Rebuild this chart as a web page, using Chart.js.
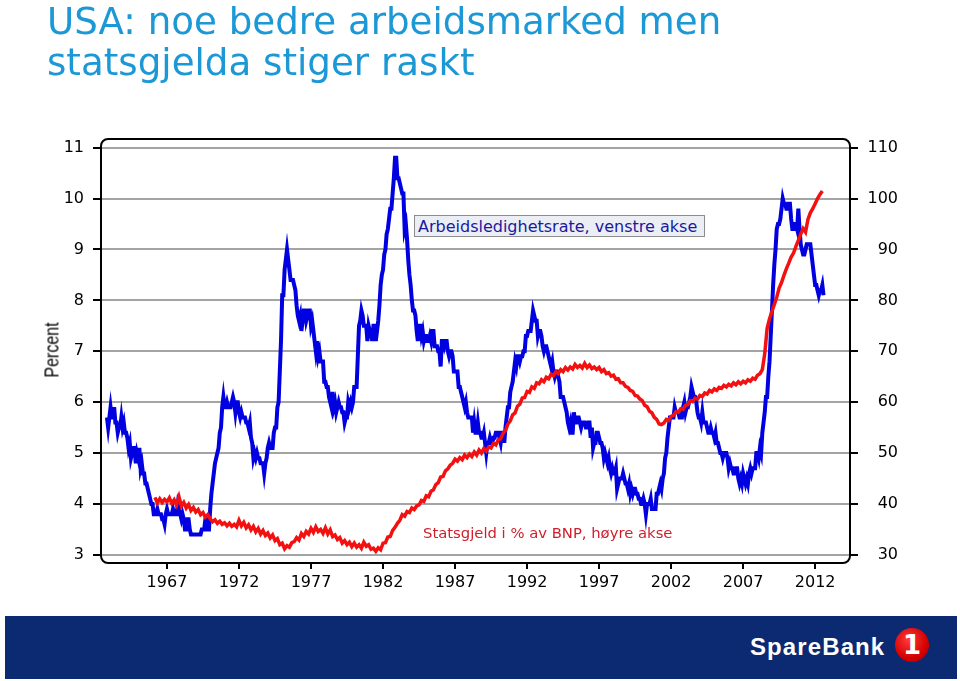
<!DOCTYPE html>
<html>
<head>
<meta charset="utf-8">
<script src="https://cdn.jsdelivr.net/npm/chart.js@4.4.0/dist/chart.umd.min.js"></script>
<style>
  html, body { margin: 0; padding: 0; background: #fff; }
  #wrap { position: relative; width: 960px; height: 681px; overflow: hidden; }
  #myChart { position: absolute; left: 0; top: 0; }
  .title { position: absolute; left: 47px; top: 1px; font-family: "DejaVu Sans", Verdana, sans-serif;
    font-size: 37.2px; line-height: 41px; color: #1b98d5; white-space: nowrap; }
  .percent { position: absolute; left: 52px; top: 350px; transform: translate(-50%, -50%) rotate(-90deg) scaleX(0.8);
    font-family: "Liberation Sans", Arial, sans-serif; font-size: 20px; color: #000; white-space: nowrap; }
  .legendbox { position: absolute; left: 414px; top: 215px; width: 289px; height: 20px; border: 1.5px solid #8c8c8c;
    background: #eceef6; font-family: "DejaVu Sans", sans-serif; font-size: 16px; line-height: 21px; color: #1a1a9c;
    text-indent: 3px; white-space: nowrap; overflow: hidden; }
  .redlabel { position: absolute; left: 423px; top: 524px; font-family: "DejaVu Sans", sans-serif; font-size: 14.8px;
    color: #cf1f2c; white-space: nowrap; }
  .band { position: absolute; left: 5px; top: 616px; width: 952px; height: 63px; background: #0c2a71; }
  .logo { position: absolute; left: 750px; top: 635px; font-family: "Liberation Sans", Arial, sans-serif;
    font-weight: bold; font-size: 24px; line-height: 24px; color: #fff; letter-spacing: 1.1px; }
  .one { position: absolute; left: 895px; top: 628px; width: 34px; height: 34px; border-radius: 50%;
    background: radial-gradient(circle at 40% 35%, #ff3a3a, #d40000 60%, #9a0000); color: #fff;
    font-family: "DejaVu Sans", sans-serif; font-weight: bold; font-size: 26px; line-height: 34px; text-align: center; }
</style>
</head>
<body>
<div id="wrap">
  <canvas id="myChart" width="960" height="681"></canvas>
  <div class="title">USA: noe bedre arbeidsmarked men<br>statsgjelda stiger raskt</div>
  <div class="percent">Percent</div>
  <div class="legendbox">Arbeidsledighetsrate, venstre akse</div>
  <div class="redlabel">Statsgjeld i % av BNP, høyre akse</div>
  <div class="band"></div>
  <div class="logo">SpareBank</div>
  <div class="one">1</div>
</div>
<script>
// tick labels
let yearTicks = [1967, 1972, 1977, 1982, 1987, 1992, 1997, 2002, 2007, 2012];
let leftTicks = [3, 4, 5, 6, 7, 8, 9, 10, 11];
let rightTicks = [30, 40, 50, 60, 70, 80, 90, 100, 110];

// unemployment rate, monthly from Nov 1962 (left axis)
let unempStart = 1962 + 10 / 12;
let unemployment = [
  5.7, 5.5,
  5.7, 5.9, 5.7, 5.7, 5.9, 5.6, 5.6, 5.4, 5.5, 5.5, 5.7, 5.5,
  5.6, 5.4, 5.4, 5.3, 5.1, 5.2, 4.9, 5.0, 5.1, 5.1, 4.8, 5.0,
  4.9, 5.1, 4.7, 4.8, 4.6, 4.6, 4.4, 4.4, 4.3, 4.2, 4.1, 4.0,
  4.0, 3.8, 3.8, 3.8, 3.9, 3.8, 3.8, 3.8, 3.7, 3.7, 3.6, 3.8,
  3.9, 3.8, 3.8, 3.8, 3.8, 3.9, 3.8, 3.8, 3.8, 4.0, 3.9, 3.8,
  3.7, 3.8, 3.7, 3.5, 3.5, 3.7, 3.7, 3.5, 3.4, 3.4, 3.4, 3.4,
  3.4, 3.4, 3.4, 3.4, 3.4, 3.5, 3.5, 3.5, 3.7, 3.7, 3.5, 3.5,
  3.9, 4.2, 4.4, 4.6, 4.8, 4.9, 5.0, 5.1, 5.4, 5.5, 5.9, 6.1,
  5.9, 5.9, 6.0, 5.9, 5.9, 5.9, 6.0, 6.1, 6.0, 5.8, 6.0, 6.0,
  5.8, 5.7, 5.8, 5.7, 5.7, 5.7, 5.6, 5.6, 5.5, 5.6, 5.3, 5.2,
  4.9, 5.0, 4.9, 5.0, 4.9, 4.9, 4.8, 4.8, 4.8, 4.6, 4.8, 4.9,
  5.1, 5.2, 5.1, 5.1, 5.1, 5.4, 5.5, 5.5, 5.9, 6.0, 6.6, 7.2,
  8.1, 8.1, 8.6, 8.8, 9.0, 8.8, 8.6, 8.4, 8.4, 8.4, 8.3, 8.2,
  7.9, 7.7, 7.6, 7.7, 7.4, 7.6, 7.8, 7.8, 7.6, 7.7, 7.8, 7.8,
  7.5, 7.6, 7.4, 7.2, 7.0, 7.2, 6.9, 7.0, 6.8, 6.8, 6.8, 6.4,
  6.4, 6.3, 6.3, 6.1, 6.0, 5.9, 6.2, 5.9, 6.0, 5.8, 5.9, 6.0,
  5.9, 5.9, 5.8, 5.8, 5.6, 5.7, 5.7, 6.0, 5.9, 6.0, 5.9, 6.0,
  6.3, 6.3, 6.3, 6.9, 7.5, 7.6, 7.8, 7.7, 7.5, 7.5, 7.5, 7.2,
  7.5, 7.4, 7.4, 7.2, 7.5, 7.5, 7.2, 7.4, 7.6, 7.9, 8.3, 8.5,
  8.6, 8.9, 9.0, 9.3, 9.4, 9.6, 9.8, 9.8, 10.1, 10.4, 10.8, 10.8,
  10.4, 10.4, 10.3, 10.2, 10.1, 10.1, 9.4, 9.5, 9.2, 8.8, 8.5, 8.3,
  8.0, 7.8, 7.8, 7.7, 7.4, 7.2, 7.5, 7.5, 7.3, 7.4, 7.2, 7.3,
  7.3, 7.2, 7.2, 7.3, 7.2, 7.4, 7.4, 7.1, 7.1, 7.1, 7.0, 7.0,
  6.7, 7.2, 7.2, 7.1, 7.2, 7.2, 7.0, 6.9, 7.0, 7.0, 6.9, 6.6,
  6.6, 6.6, 6.6, 6.3, 6.3, 6.2, 6.1, 6.0, 5.9, 6.0, 5.8, 5.7,
  5.7, 5.7, 5.7, 5.4, 5.6, 5.4, 5.4, 5.6, 5.4, 5.4, 5.3, 5.3,
  5.4, 5.2, 5.0, 5.2, 5.2, 5.3, 5.2, 5.2, 5.3, 5.3, 5.4, 5.4,
  5.4, 5.3, 5.2, 5.4, 5.4, 5.2, 5.5, 5.7, 5.9, 5.9, 6.2, 6.3,
  6.4, 6.6, 6.8, 6.7, 6.9, 6.9, 6.8, 6.9, 6.9, 7.0, 7.0, 7.3,
  7.3, 7.4, 7.4, 7.4, 7.6, 7.8, 7.7, 7.6, 7.6, 7.3, 7.4, 7.4,
  7.3, 7.1, 7.0, 7.1, 7.1, 7.0, 6.9, 6.8, 6.7, 6.8, 6.6, 6.5,
  6.6, 6.6, 6.5, 6.4, 6.1, 6.1, 6.1, 6.0, 5.9, 5.8, 5.6, 5.5,
  5.6, 5.4, 5.4, 5.8, 5.6, 5.6, 5.7, 5.7, 5.6, 5.5, 5.6, 5.6,
  5.6, 5.5, 5.5, 5.6, 5.6, 5.3, 5.5, 5.1, 5.2, 5.2, 5.4, 5.4,
  5.3, 5.2, 5.2, 5.1, 4.9, 5.0, 4.9, 4.8, 4.9, 4.7, 4.6, 4.7,
  4.6, 4.6, 4.7, 4.3, 4.4, 4.5, 4.5, 4.5, 4.6, 4.5, 4.4, 4.4,
  4.3, 4.4, 4.2, 4.3, 4.2, 4.3, 4.3, 4.2, 4.2, 4.1, 4.1, 4.0,
  4.0, 4.1, 4.0, 3.8, 4.0, 4.0, 4.0, 4.1, 3.9, 3.9, 3.9, 3.9,
  4.2, 4.2, 4.3, 4.4, 4.3, 4.5, 4.6, 4.9, 5.0, 5.3, 5.5, 5.7,
  5.7, 5.7, 5.7, 5.9, 5.8, 5.8, 5.8, 5.7, 5.7, 5.7, 5.9, 6.0,
  5.8, 5.9, 5.9, 6.0, 6.1, 6.3, 6.2, 6.1, 6.1, 6.0, 5.8, 5.7,
  5.7, 5.6, 5.8, 5.6, 5.6, 5.6, 5.5, 5.4, 5.4, 5.5, 5.4, 5.4,
  5.3, 5.4, 5.2, 5.2, 5.1, 5.0, 5.0, 4.9, 5.0, 5.0, 5.0, 4.9,
  4.7, 4.8, 4.7, 4.7, 4.6, 4.6, 4.7, 4.7, 4.5, 4.4, 4.5, 4.4,
  4.6, 4.5, 4.4, 4.5, 4.4, 4.6, 4.7, 4.6, 4.7, 4.7, 4.7, 5.0,
  5.0, 4.9, 5.1, 5.0, 5.4, 5.6, 5.8, 6.1, 6.1, 6.5, 6.8, 7.3,
  7.8, 8.3, 8.7, 9.0, 9.4, 9.5, 9.5, 9.6, 9.8, 10.0, 9.9, 9.9,
  9.8, 9.8, 9.9, 9.9, 9.6, 9.4, 9.4, 9.5, 9.5, 9.4, 9.8, 9.4,
  9.1, 9.0, 8.9, 8.9, 9.0, 9.1, 9.1, 9.1, 9.1, 8.9, 8.7, 8.5,
  8.3, 8.3, 8.2, 8.1, 8.2, 8.2, 8.3, 8.1
];

// government debt in % of GDP, every second month from Mar 1966 (right axis)
let debtStart = 1966 + 1 / 6;
let debt = [
  41.3, 40.2, 41.0, 40.3, 40.9,
  40.4, 41.2, 40.1, 40.8, 39.8, 41.4,
  39.6, 40.3, 39.2, 39.9, 38.7, 39.3,
  38.4, 38.9, 37.9, 38.3, 37.4, 37.9,
  37.1, 36.5, 36.9, 36.2, 36.6, 36.0,
  36.3, 35.7, 36.2, 35.6, 36.0, 35.5,
  36.8, 35.7, 36.4, 35.3, 35.9, 34.9,
  35.6, 34.5, 35.2, 34.1, 34.8, 33.8,
  34.3, 33.3, 33.9, 32.8, 33.2, 32.0,
  32.3, 31.2, 31.8, 31.5, 32.4, 32.6,
  33.4, 32.9, 34.2, 33.6, 34.6, 34.1,
  35.2, 34.4, 35.5, 34.6, 35.0, 34.2,
  35.3, 34.1, 34.9, 33.6, 33.9, 33.0,
  33.4, 32.3, 32.8, 32.0, 32.5, 31.6,
  32.3, 31.5, 32.0, 31.3, 32.5, 31.7,
  32.0, 31.1, 31.3, 30.7, 31.4, 31.0,
  32.3, 32.4, 33.5, 33.6, 34.8, 35.4,
  36.2, 36.8, 37.9, 37.6, 38.5, 38.3,
  39.2, 38.9, 39.6, 39.8, 40.7, 40.5,
  41.6, 41.4, 42.5, 42.8, 43.8, 44.2,
  45.3, 45.4, 46.5, 46.9, 47.6, 48.0,
  48.8, 48.4, 49.1, 48.7, 49.6, 49.1,
  49.8, 49.3, 50.2, 49.6, 50.6, 50.0,
  50.9, 50.4, 51.2, 51.0, 51.9, 51.6,
  52.6, 52.8, 53.9, 54.4, 55.7, 56.3,
  57.5, 57.9, 59.2, 59.6, 60.8, 60.9,
  62.1, 61.9, 63.0, 62.7, 63.8, 63.6,
  64.4, 64.0, 64.9, 64.6, 65.5, 65.2,
  66.0, 65.6, 66.4, 66.0, 66.8, 66.3,
  66.9, 66.5, 67.4, 66.8, 67.2, 66.7,
  67.6, 66.8, 67.3, 66.6, 66.9, 66.4,
  66.8, 66.0, 66.4, 65.6, 65.8, 65.1,
  65.3, 64.5, 64.6, 63.8, 63.8, 63.1,
  62.9, 62.3, 62.1, 61.3, 61.2, 60.6,
  60.3, 59.4, 59.1, 58.2, 57.9, 57.0,
  56.6, 55.7, 55.6, 55.9, 56.6, 56.4,
  57.2, 57.4, 58.1, 58.0, 58.7, 58.6,
  59.4, 59.5, 60.3, 60.1, 60.8, 60.6,
  61.3, 61.1, 61.8, 61.6, 62.3, 62.0,
  62.6, 62.3, 62.9, 62.7, 63.3, 63.0,
  63.5, 63.2, 63.8, 63.4, 64.0, 63.6,
  64.1, 63.8, 64.4, 64.1, 64.7, 64.5,
  65.3, 65.6, 66.4, 69.5, 74.5, 76.4,
  77.8, 79.2, 80.6, 82.4, 83.5, 84.9,
  86.2, 87.3, 88.5, 89.3, 90.6, 91.8,
  93.0, 94.1, 93.4, 95.9, 97.2, 98.0,
  99.0, 100.0, 100.8, 101.5
];

let unempPoints = unemployment.map((v, i) => ({ x: unempStart + i / 12, y: v }));
let debtPoints = debt.map((v, i) => ({ x: debtStart + i / 6, y: v }));

let frame = {
  id: 'frame',
  afterDraw(chart) {
    let a = chart.chartArea;
    let c = chart.ctx;
    c.save();
    c.strokeStyle = '#000';
    c.lineWidth = 2;
    c.beginPath();
    c.roundRect(a.left, a.top, a.right - a.left, a.bottom - a.top, 7);
    c.stroke();
    c.restore();
  }
};

let tickFont = { family: 'DejaVu Sans', size: 16 };

let chart = new Chart(document.getElementById('myChart').getContext('2d'), {
  type: 'line',
  data: {
    datasets: [{
      label: 'Statsgjeld i % av BNP, høyre akse',
      data: debtPoints,
      yAxisID: 'y1',
      borderColor: '#f21010',
      borderWidth: 3.5,
      pointRadius: 0,
      tension: 0
    }, {
      label: 'Arbeidsledighetsrate, venstre akse',
      data: unempPoints,
      yAxisID: 'y',
      borderColor: '#0000e0',
      borderWidth: 4,
      pointRadius: 0,
      tension: 0
    }]
  },
  options: {
    responsive: false,
    animation: false,
    devicePixelRatio: 1,
    layout: { padding: { top: 139, left: 0, right: 62, bottom: 0 } },
    plugins: { legend: { display: false }, tooltip: { enabled: false } },
    scales: {
      x: {
        type: 'linear',
        min: 1962.42,
        max: 2014.42,
        afterBuildTicks: s => { s.ticks = yearTicks.map(v => ({ value: v })); },
        afterFit: s => { s.height = 118; },
        ticks: { font: tickFont, color: '#000', padding: 4, maxRotation: 0, autoSkip: false,
          callback: v => String(v) },
        grid: { drawOnChartArea: false, tickColor: '#000', tickLength: 6, lineWidth: 2 },
        border: { display: false }
      },
      y: {
        position: 'left',
        min: 2.84,
        max: 11.17,
        afterBuildTicks: s => { s.ticks = leftTicks.map(v => ({ value: v })); },
        afterFit: s => { s.width = 101; },
        ticks: { font: tickFont, color: '#000', padding: 9, callback: v => String(v) },
        grid: { color: '#a4a4a4', lineWidth: 2, tickColor: '#000', tickLength: 8 },
        border: { display: false }
      },
      y1: {
        position: 'right',
        min: 28.4,
        max: 111.7,
        afterBuildTicks: s => { s.ticks = rightTicks.map(v => ({ value: v })); },
        afterFit: s => { s.width = 48; },
        ticks: { font: tickFont, color: '#000', padding: 10, crossAlign: 'far', callback: v => String(v) },
        grid: { drawOnChartArea: false, tickColor: '#000', tickLength: 8, lineWidth: 2 },
        border: { display: false }
      }
    }
  },
  plugins: [frame]
});
</script>
</body>
</html>
